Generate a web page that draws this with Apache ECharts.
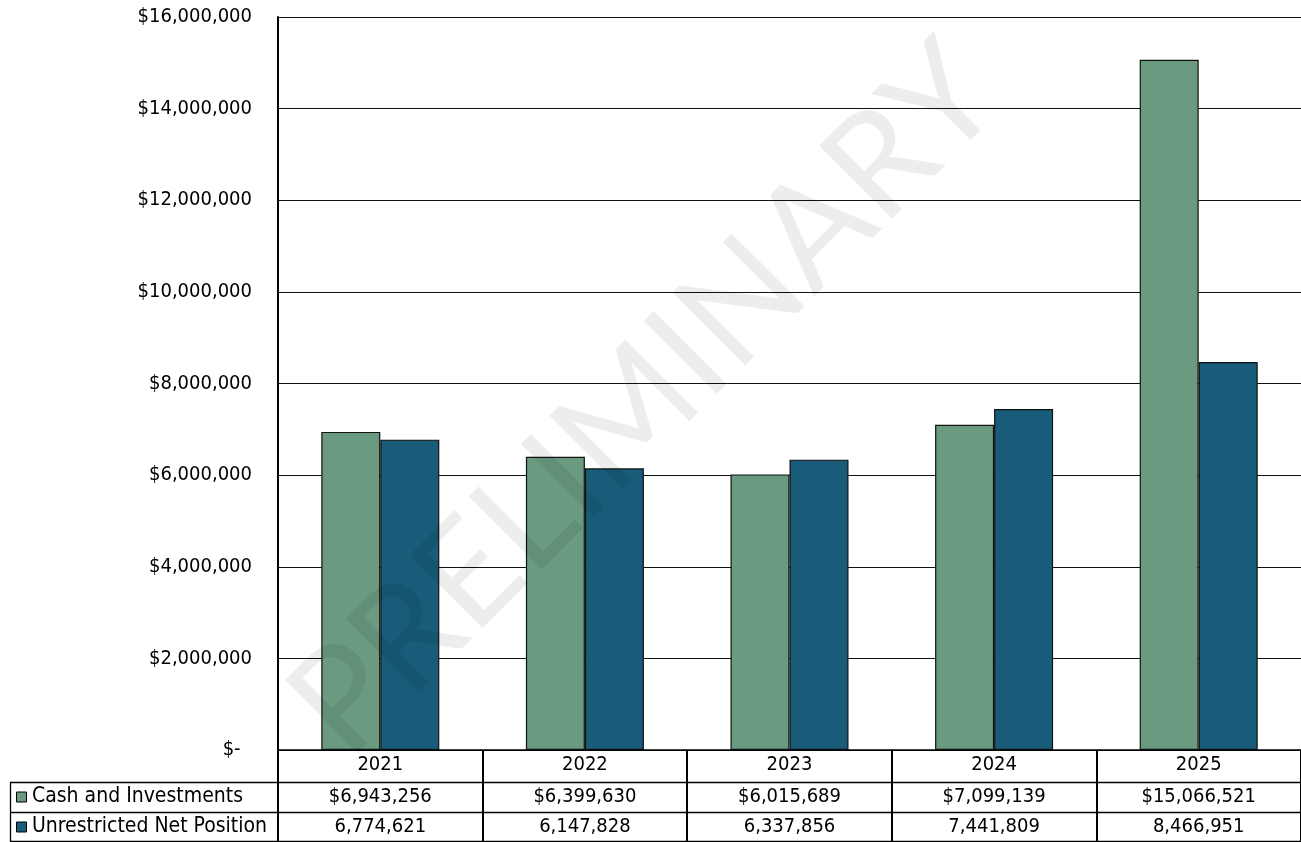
<!DOCTYPE html>
<html>
<head>
<meta charset="utf-8">
<script src="https://cdn.jsdelivr.net/npm/echarts@6/dist/echarts.min.js"></script>
<style>
  html, body { margin: 0; padding: 0; background: #fff; }
  #chart { width: 1301px; height: 842px; }
</style>
</head>
<body>
<div id="chart"></div>
<script>
// Fiscal years shown along the category axis
const years = ['2021', '2022', '2023', '2024', '2025'];
// Year-end balances
const cashAndInvestments = [6943256, 6399630, 6015689, 7099139, 15066521];
const unrestrictedNetPosition = [6774621, 6147828, 6337856, 7441809, 8466951];
// Series names as printed in the data table
const seriesNames = ['Cash and Investments', 'Unrestricted Net Position'];
// Value axis range
const yMin = 0, yMax = 16000000, yStep = 2000000;

const FONT = "'DejaVu Sans Condensed', 'DejaVu Sans', sans-serif";
const GREEN = '#6a9a80';
const BLUE = '#185c7a';
const INK = '#000';

const fmt = v => v.toLocaleString('en-US');
const money = v => (v === 0 ? '$-  ' : '$' + fmt(v));

const chart = echarts.init(document.getElementById('chart'), null, { renderer: 'canvas' });

const option = {
  animation: false,
  backgroundColor: '#fff',
  textStyle: { fontFamily: FONT },
  grid: { left: 278, right: 0, top: 17, bottom: 92, containLabel: false },
  xAxis: {
    type: 'category',
    data: years,
    boundaryGap: true,
    axisLine: { show: true, lineStyle: { color: INK, width: 1.5 } },
    axisTick: { show: true, length: 92, lineStyle: { color: INK, width: 2 } },
    axisLabel: { color: INK, fontSize: 20, fontFamily: FONT, margin: 5 }
  },
  yAxis: {
    type: 'value',
    min: yMin, max: yMax, interval: yStep,
    axisLine: { show: true, lineStyle: { color: INK, width: 2 } },
    axisTick: { show: false },
    splitLine: { show: true, lineStyle: { color: '#111', width: 1.2 } },
    axisLabel: { color: INK, fontSize: 20, fontFamily: FONT, margin: 26, formatter: money }
  },
  series: [
    {
      name: seriesNames[0], type: 'bar', data: cashAndInvestments,
      barWidth: 59, barGap: '0%',
      itemStyle: { color: GREEN, borderColor: '#111', borderWidth: 1.2 }
    },
    {
      name: seriesNames[1], type: 'bar', data: unrestrictedNetPosition,
      barWidth: 59, barGap: '0%',
      itemStyle: { color: BLUE, borderColor: '#111', borderWidth: 1.2 }
    }
  ]
};
chart.setOption(option);

// Data table under the plot: rows, legend keys and values placed from the axis scale
function buildTable() {
  const gridRect = chart.getModel().getComponent('grid').coordinateSystem.getRect();
  const right = gridRect.x + gridRect.width;
  const axisY = gridRect.y + gridRect.height;
  const rowH = 30;
  const row1Top = axisY + 32, row2Top = row1Top + rowH, row2Bottom = row2Top + rowH;
  const tableLeft = 10;
  const g = [];
  const line = (x1, y1, x2, y2, w) => g.push({
    type: 'line', silent: true, z: 50,
    shape: { x1, y1, x2, y2 }, style: { stroke: INK, lineWidth: w }
  });
  line(tableLeft, row1Top + 0.5, right, row1Top + 0.5, 1.3);
  line(tableLeft, row2Top + 0.5, right, row2Top + 0.5, 1.3);
  line(tableLeft, row2Bottom - 0.5, right, row2Bottom - 0.5, 1.3);
  line(tableLeft + 0.5, row1Top, tableLeft + 0.5, row2Bottom, 1.3);

  const rows = [
    { top: row1Top, color: GREEN, name: seriesNames[0], values: cashAndInvestments, f: money },
    { top: row2Top, color: BLUE, name: seriesNames[1], values: unrestrictedNetPosition, f: fmt }
  ];
  rows.forEach(r => {
    const cy = r.top + rowH / 2;
    g.push({ type: 'rect', silent: true, z: 50,
      shape: { x: 16.5, y: cy - 5, width: 10, height: 10 },
      style: { fill: r.color, stroke: INK, lineWidth: 1 } });
    g.push({ type: 'text', silent: true, z: 50, x: 32, y: cy,
      style: { text: r.name, fill: INK, font: '21px ' + FONT, textAlign: 'left', textVerticalAlign: 'middle' } });
    r.values.forEach((v, i) => {
      const cx = chart.convertToPixel({ xAxisIndex: 0 }, years[i]);
      g.push({ type: 'text', silent: true, z: 50, x: cx, y: cy,
        style: { text: r.f(v), fill: INK, font: '20px ' + FONT, textAlign: 'center', textVerticalAlign: 'middle' } });
    });
  });

  // Draft watermark across the plot
  g.push({ type: 'text', silent: true, z: 100, x: 645, y: 400, rotation: Math.PI / 4,
    style: { text: 'PRELIMINARY', fill: 'rgba(0,0,0,0.07)', font: '400 144px Lato, sans-serif',
      textAlign: 'center', textVerticalAlign: 'middle' } });

  chart.setOption({ graphic: { elements: g } });
}
buildTable();
</script>
</body>
</html>
